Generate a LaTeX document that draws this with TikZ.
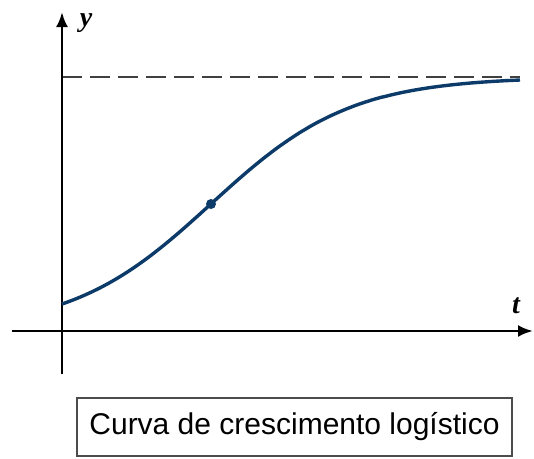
\documentclass[tikz,border=0pt]{standalone}
\usepackage{fontspec}
\setmainfont{Liberation Sans}
\newfontfamily\eixofont{Liberation Serif}
\usetikzlibrary{arrows.meta,positioning}

\definecolor{azulcurva}{RGB}{12,58,105}

\tikzset{
	eixo/.style = {line width = 2.8pt, -{Latex[length=15pt, width=12pt]}},
	assintota/.style = {line width = 2pt, black!75, dash pattern = on 20pt off 8pt},
	curva/.style = {line width = 3.4pt, azulcurva},
	rotulo/.style = {inner sep = 0pt, font = \eixofont\bfseries\itshape\fontsize{28}{30}\selectfont},
	legenda/.style = {draw = black!70, line width = 1.4pt, minimum width = 435pt, minimum height = 58pt, inner sep = 0pt, font = \fontsize{30}{36}\selectfont}
}

\begin{document}
\begin{tikzpicture}[x = 1pt, y = -1pt]
			\useasboundingbox (0,0) rectangle (534,458);

			\coordinate (O) at (62,331);
			\coordinate (Ybaixo) at (62,374);
			\coordinate (Ytopo) at (62,12);
			\coordinate (Xesq) at (12,331);
			\coordinate (Xdir) at (533,331);
			\coordinate (L0) at (62,77);
			\coordinate (L1) at (520,77);
			\coordinate (P) at (211,204);

			\draw[assintota] (L0) -- (L1);
			\draw[eixo] (Ybaixo) -- (Ytopo);
			\draw[eixo] (Xesq) -- (Xdir);

			\node[rotulo] (y) at (86,23) {y};
			\node[rotulo] (t) at (516,306) {t};

			\draw[curva] plot[domain = 0:458, samples = 120] ({62+\x},{331-254/(1+8.41*exp(-0.01429*\x))});
			\fill[azulcurva] (P) circle (5pt);

			\node[legenda] (leg) at (294.5,427) {Curva de crescimento logístico};

		\end{tikzpicture}
\end{document}
